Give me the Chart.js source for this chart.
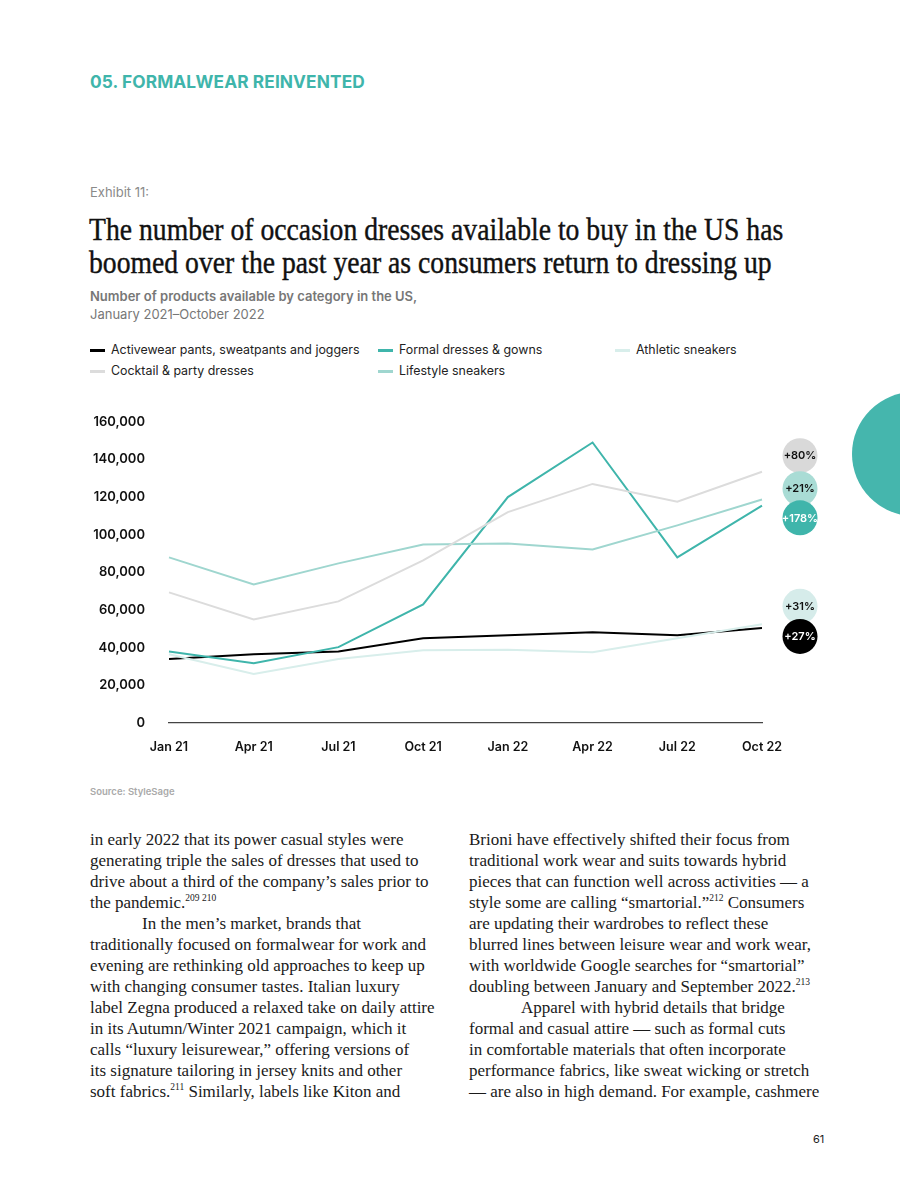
<!DOCTYPE html>
<html>
<head>
<meta charset="utf-8">
<script src="https://cdn.jsdelivr.net/npm/chart.js@4.4.0/dist/chart.umd.min.js"></script>
<style>
  html, body { margin: 0; padding: 0; background: #fff; }
  body { width: 900px; height: 1200px; position: relative; overflow: hidden; font-family: Inter, "Noto Sans", sans-serif; }
  .abs { position: absolute; white-space: nowrap; }
  .section { left: 90px; top: 71px; font-size: 17.3px; font-weight: 700; color: #3fb5ab; letter-spacing: 0.1px; }
  .exhibit { left: 90px; top: 184px; font-size: 13px; color: #8a8a8a; }
  .title { left: 89px; top: 213px; font-family: "Liberation Serif", serif; font-size: 31px; line-height: 33px; color: #111; transform-origin: left top; transform: scaleX(0.893); -webkit-text-stroke: 0.4px #111; }
  .subtitle { left: 90px; top: 287px; font-size: 13px; line-height: 18px; color: #777; }
  .subtitle b { font-weight: 600; }
  .legend { font-size: 12.4px; color: #222; }
  .legend .sw { position: absolute; width: 15px; height: 3px; }
  .legend .tx { position: absolute; white-space: nowrap; }
  #wrap { position: absolute; left: 0; top: 390px; width: 900px; height: 373px; }
  .source { left: 90px; top: 786px; font-size: 9.5px; font-weight: 600; color: #aaa; }
  .col { top: 829px; font-family: "Liberation Serif", serif; font-size: 17px; line-height: 21px; color: #1a1a1a; }
  .col sup { font-size: 9.5px; line-height: 0; }
  .ind { display: inline-block; width: 52px; }
  .blob { position: absolute; left: 852px; top: 392px; width: 124px; height: 124px; border-radius: 50%; background: #45b6ad; }
  .page { left: 813px; top: 1132px; font-size: 11px; color: #222; }
</style>
</head>
<body>
<div class="abs section">05. FORMALWEAR REINVENTED</div>
<div class="abs exhibit">Exhibit 11:</div>
<div class="abs title" id="title">The number of occasion dresses available to buy in the US has<br>boomed over the past year as consumers return to dressing up</div>
<div class="abs subtitle"><b>Number of products available by category in the US,</b><br>January 2021–October 2022</div>
<div id="legend" class="legend"></div>
<div class="blob"></div>
<div id="wrap"><canvas id="chart"></canvas></div>
<div class="abs source">Source: StyleSage</div>
<div class="abs col" id="colL" style="left:90px">in early 2022 that its power casual styles were<br>generating triple the sales of dresses that used to<br>drive about a third of the company’s sales prior to<br>the pandemic.<sup>209 210</sup><br><span class="ind"></span>In the men’s market, brands that<br>traditionally focused on formalwear for work and<br>evening are rethinking old approaches to keep up<br>with changing consumer tastes. Italian luxury<br>label Zegna produced a relaxed take on daily attire<br>in its Autumn/Winter 2021 campaign, which it<br>calls “luxury leisurewear,” offering versions of<br>its signature tailoring in jersey knits and other<br>soft fabrics.<sup>211</sup> Similarly, labels like Kiton and</div>
<div class="abs col" id="colR" style="left:469px">Brioni have effectively shifted their focus from<br>traditional work wear and suits towards hybrid<br>pieces that can function well across activities — a<br>style some are calling “smartorial.”<sup>212</sup> Consumers<br>are updating their wardrobes to reflect these<br>blurred lines between leisure wear and work wear,<br>with worldwide Google searches for “smartorial”<br>doubling between January and September 2022.<sup>213</sup><br><span class="ind"></span>Apparel with hybrid details that bridge<br>formal and casual attire — such as formal cuts<br>in comfortable materials that often incorporate<br>performance fabrics, like sweat wicking or stretch<br>— are also in high demand. For example, cashmere</div>
<div class="abs page">61</div>

<script>
  const months = ["Jan 21", "Apr 21", "Jul 21", "Oct 21", "Jan 22", "Apr 22", "Jul 22", "Oct 22"];
  const activewear = [34000, 36500, 38000, 45000, 46600, 48200, 46600, 50500];
  const formalDresses = [38000, 31800, 40300, 63000, 120000, 149000, 88000, 115500];
  const athleticSneakers = [36500, 26000, 34000, 38700, 38900, 37600, 45000, 52500];
  const cocktailDresses = [69400, 55000, 64600, 86400, 112000, 127000, 117600, 133500];
  const lifestyleSneakers = [88000, 73600, 84800, 94800, 95400, 92200, 105000, 118700];
  const yTicks = [0, 20000, 40000, 60000, 80000, 100000, 120000, 140000, 160000];

  // Change badges on the right (label, anchor value)
  const badgeLabels = ["+80%", "+21%", "+178%", "+31%", "+27%"];
  const badgeValues = [142000, 124500, 109000, 62000, 46000];
  const badgeFill = ["#d9d9d9", "#a9dcd5", "#3fb5ab", "#d6ecea", "#000000"];
  const badgeText = ["#111", "#111", "#fff", "#111", "#fff"];

  const colors = {
    activewear: "#000000",
    formal: "#3fb5ab",
    athletic: "#d8eeeb",
    cocktail: "#dcdcdc",
    lifestyle: "#9fd6cf"
  };

  // Legend
  const legendItems = [
    { label: "Activewear pants, sweatpants and joggers", color: colors.activewear, x: 90, y: 350 },
    { label: "Formal dresses & gowns", color: colors.formal, x: 378, y: 350 },
    { label: "Athletic sneakers", color: colors.athletic, x: 615, y: 350 },
    { label: "Cocktail & party dresses", color: colors.cocktail, x: 90, y: 371 },
    { label: "Lifestyle sneakers", color: colors.lifestyle, x: 378, y: 371 }
  ];
  const legend = document.getElementById("legend");
  legendItems.forEach(function (it) {
    const sw = document.createElement("div");
    sw.className = "sw";
    sw.style.left = it.x + "px";
    sw.style.top = (it.y - 1) + "px";
    sw.style.background = it.color;
    legend.appendChild(sw);
    const tx = document.createElement("div");
    tx.className = "tx";
    tx.style.left = (it.x + 21) + "px";
    tx.style.top = (it.y - 8) + "px";
    tx.textContent = it.label;
    legend.appendChild(tx);
  });

  const badges = {
    id: "badges",
    afterDatasetsDraw(chart) {
      const ctx = chart.ctx;
      const y = chart.scales.y;
      const cx = chart.chartArea.right + 38;
      ctx.save();
      badgeLabels.forEach(function (lab, i) {
        const cy = y.getPixelForValue(badgeValues[i]);
        ctx.beginPath();
        ctx.arc(cx, cy, 17.5, 0, Math.PI * 2);
        ctx.fillStyle = badgeFill[i];
        ctx.fill();
        ctx.fillStyle = badgeText[i];
        ctx.font = "600 11px Inter";
        ctx.textAlign = "center";
        ctx.textBaseline = "middle";
        ctx.fillText(lab, cx, cy + 0.5);
      });
      ctx.restore();
    }
  };

  function ds(label, data, color, width) {
    return {
      label: label,
      data: data,
      borderColor: color,
      backgroundColor: color,
      borderWidth: width,
      pointRadius: 0,
      tension: 0,
      fill: false
    };
  }

  new Chart(document.getElementById("chart"), {
    type: "line",
    data: {
      labels: months,
      datasets: [
        ds("Athletic sneakers", athleticSneakers, colors.athletic, 2),
        ds("Cocktail & party dresses", cocktailDresses, colors.cocktail, 2),
        ds("Lifestyle sneakers", lifestyleSneakers, colors.lifestyle, 2),
        ds("Formal dresses & gowns", formalDresses, colors.formal, 2),
        ds("Activewear pants, sweatpants and joggers", activewear, colors.activewear, 2)
      ]
    },
    options: {
      responsive: true,
      maintainAspectRatio: false,
      animation: false,
      layout: { padding: { top: 11, right: 138, bottom: 0, left: 0 } },
      plugins: { legend: { display: false }, tooltip: { enabled: false } },
      scales: {
        x: {
          grid: { display: false, drawTicks: false },
          border: { display: true, color: "#444", width: 1.3 },
          ticks: { padding: 17, color: "#111", font: { family: "Inter", size: 12.5, weight: "600" }, maxRotation: 0 },
          afterFit: function (s) { s.height = 40; }
        },
        y: {
          min: 0,
          max: 160000,
          afterBuildTicks: function (s) { s.ticks = yTicks.map(function (v) { return { value: v }; }); },
          grid: { display: false, drawTicks: false },
          border: { display: false },
          ticks: {
            padding: 24,
            color: "#111",
            font: { family: "Inter", size: 13, weight: "600" },
            callback: function (v) { return Number(v).toLocaleString("en-US"); }
          },
          afterFit: function (s) { s.width = 169; }
        }
      }
    },
    plugins: [badges]
  });
</script>
</body>
</html>
